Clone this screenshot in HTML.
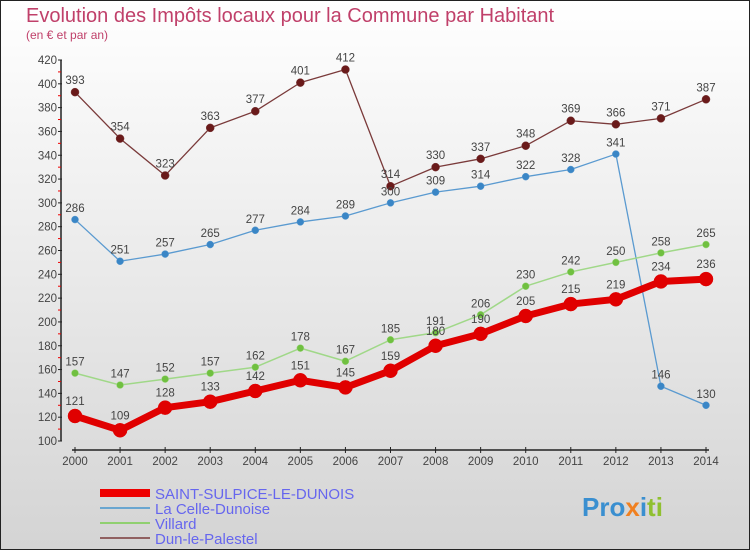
<!DOCTYPE html>
<html><head><meta charset="utf-8"><style>
body{margin:0;width:750px;height:550px;overflow:hidden;font-family:"Liberation Sans",sans-serif}
</style></head><body>
<svg width="750" height="550" style="display:block">
<defs><linearGradient id="bg" x1="0" y1="0" x2="0" y2="1"><stop offset="0" stop-color="#ffffff"/><stop offset="1" stop-color="#d4d4d4"/></linearGradient></defs>
<rect x="0.5" y="0.5" width="749" height="549" fill="url(#bg)" stroke="#222"/>
<text x="26" y="22" font-size="20" fill="#c0406a">Evolution des Impôts locaux pour la Commune par Habitant</text>
<text x="26" y="39" font-size="12" fill="#c0406a">(en € et par an)</text>
<g id="axes"></g><g id="plot"></g>
<g font-size="15" fill="#6666ee">
<line x1="100" y1="493" x2="150" y2="493" stroke="#e00" stroke-width="8"/>
<text x="155" y="499">SAINT-SULPICE-LE-DUNOIS</text>
<line x1="100" y1="508" x2="150" y2="508" stroke="#6aa6d0" stroke-width="2"/>
<text x="155" y="514">La Celle-Dunoise</text>
<line x1="100" y1="523" x2="150" y2="523" stroke="#90d070" stroke-width="2"/>
<text x="155" y="529">Villard</text>
<line x1="100" y1="538" x2="150" y2="538" stroke="#906060" stroke-width="2"/>
<text x="155" y="544">Dun-le-Palestel</text>
</g>
<text x="582" y="516" font-size="26" font-weight="bold"><tspan fill="#3a8fd0">Pro</tspan><tspan fill="#f08020">x</tspan><tspan fill="#3a8fd0">i</tspan><tspan fill="#90c030">ti</tspan></text>
</svg>
<script>
const years=[2000,2001,2002,2003,2004,2005,2006,2007,2008,2009,2010,2011,2012,2013,2014];
const yTicks=[100,120,140,160,180,200,220,240,260,280,300,320,340,360,380,400,420];
const saint=[121,109,128,133,142,151,145,159,180,190,205,215,219,234,236];
const celle=[286,251,257,265,277,284,289,300,309,314,322,328,341,146,130];
const villard=[157,147,152,157,162,178,167,185,191,206,230,242,250,258,265];
const dun=[393,354,323,363,377,401,412,314,330,337,348,369,366,371,387];
const NS='http://www.w3.org/2000/svg';
const X=i=>75+i*(706-75)/(years.length-1);
const Y=v=>441-(v-100)*(381/320);
function mk(tag,attrs,parent){const e=document.createElementNS(NS,tag);for(const k in attrs)e.setAttribute(k,attrs[k]);parent.appendChild(e);return e;}
const ax=document.getElementById('axes'),pl=document.getElementById('plot');
let yl=mk('line',{x1:61,y1:Y(420),x2:61,y2:Y(100),stroke:'#222','stroke-width':1.5},ax);


yTicks.forEach((t,i)=>{
 mk('line',{x1:58,y1:Y(t),x2:62,y2:Y(t),stroke:'#222'},ax);
 if(i<yTicks.length-1)mk('line',{x1:58,y1:Y(t+10),x2:61,y2:Y(t+10),stroke:'#e00'},ax);
 const tx=mk('text',{x:57,y:Y(t)+4,'text-anchor':'end','font-size':11.5,fill:'#444'},ax);tx.textContent=t;
 
 
});
let xl=mk('line',{x1:X(0)-3,y1:450,x2:X(years.length-1)+3,y2:450,stroke:'#222','stroke-width':1.5},ax);


years.forEach((yr,i)=>{
 mk('line',{x1:X(i),y1:447,x2:X(i),y2:453,stroke:'#222'},ax);
 const tx=mk('text',{x:X(i),y:465,'text-anchor':'middle','font-size':11.5,fill:'#444'},ax);tx.textContent=yr;
 
 
});
function series(data,color,w,r,name,dot){
 const g=mk('g',{},pl);
 
 
 mk('polyline',{points:data.map((v,i)=>X(i)+','+Y(v)).join(' '),fill:'none',stroke:color,'stroke-width':w,'stroke-linejoin':'round'},g);
 data.forEach((v,i)=>{
  const c=mk('circle',{cx:X(i),cy:Y(v),r:r,fill:dot,stroke:color,'stroke-width':0.5},g);
  
  
  const t=mk('text',{x:X(i),y:Y(v)-r-4,'text-anchor':'middle','font-size':11.5,fill:'#444'},g);t.textContent=v;
  
  
 });
}
series(dun,'#7a3a3a',1.3,4,'series-dun-le-palestel','#6a1a1a');
series(celle,'#5a9ad0',1.3,3.5,'series-la-celle-dunoise','#3a86c6');
series(villard,'#a0d888',1.5,3.5,'series-villard','#70c040');
series(saint,'#e00000',7,7,'series-saint-sulpice','#e00000');
</script>
</body></html>
